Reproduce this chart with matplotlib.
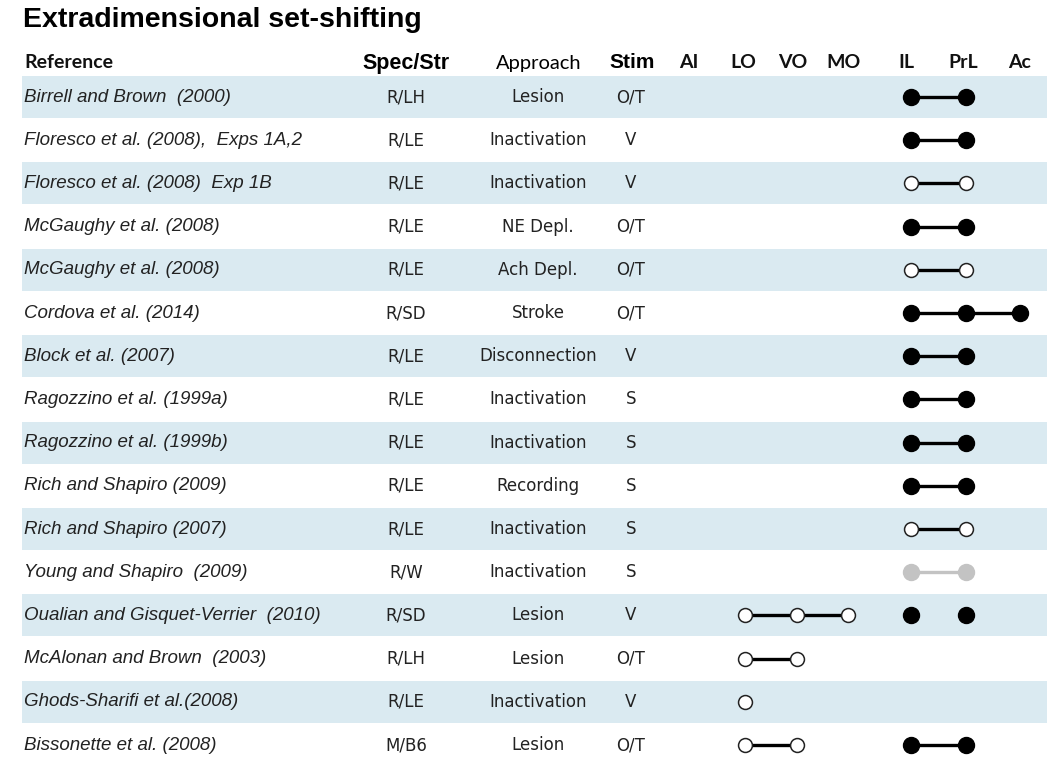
import matplotlib.pyplot as plt
from matplotlib.patches import Rectangle

title = "Extradimensional set-shifting"
headers = ["Reference", "Spec/Str", "Approach", "Stim"]
regions = ["AI", "LO", "VO", "MO", "IL", "PrL", "Ac"]

references = [
    "Birrell and Brown  (2000)",
    "Floresco et al. (2008),  Exps 1A,2",
    "Floresco et al. (2008)  Exp 1B",
    "McGaughy et al. (2008)",
    "McGaughy et al. (2008)",
    "Cordova et al. (2014)",
    "Block et al. (2007)",
    "Ragozzino et al. (1999a)",
    "Ragozzino et al. (1999b)",
    "Rich and Shapiro (2009)",
    "Rich and Shapiro (2007)",
    "Young and Shapiro  (2009)",
    "Oualian and Gisquet-Verrier  (2010)",
    "McAlonan and Brown  (2003)",
    "Ghods-Sharifi et al.(2008)",
    "Bissonette et al. (2008)",
]
species = ["R/LH", "R/LE", "R/LE", "R/LE", "R/LE", "R/SD", "R/LE", "R/LE",
           "R/LE", "R/LE", "R/LE", "R/W", "R/SD", "R/LH", "R/LE", "M/B6"]
approach = ["Lesion", "Inactivation", "Inactivation", "NE Depl.", "Ach Depl.",
            "Stroke", "Disconnection", "Inactivation", "Inactivation",
            "Recording", "Inactivation", "Inactivation", "Lesion", "Lesion",
            "Inactivation", "Lesion"]
stim = ["O/T", "V", "V", "O/T", "O/T", "O/T", "V", "S", "S", "S", "S", "S",
        "V", "O/T", "V", "O/T"]

# each row: list of (connected regions, style)
marks = [
    [(["IL", "PrL"], "filled")],
    [(["IL", "PrL"], "filled")],
    [(["IL", "PrL"], "open")],
    [(["IL", "PrL"], "filled")],
    [(["IL", "PrL"], "open")],
    [(["IL", "PrL", "Ac"], "filled")],
    [(["IL", "PrL"], "filled")],
    [(["IL", "PrL"], "filled")],
    [(["IL", "PrL"], "filled")],
    [(["IL", "PrL"], "filled")],
    [(["IL", "PrL"], "open")],
    [(["IL", "PrL"], "gray")],
    [(["LO", "VO", "MO"], "open"), (["IL"], "filled"), (["PrL"], "filled")],
    [(["LO", "VO"], "open")],
    [(["LO"], "open")],
    [(["LO", "VO"], "open"), (["IL", "PrL"], "filled")],
]

# layout (pixels)
W, H = 1050, 764
row_top, row_pitch = 97, 43.2
header_y = 63
header_x = [24, 406, 539, 632]
region_head_x = [689, 743, 793, 843, 906, 963, 1020]
region_x = [692, 745, 797, 848, 911, 966, 1020]
col_x = [24, 406, 538, 631]
band = "#daeaf1"
txt = "#222222"

fig = plt.figure(figsize=(W / 100, H / 100), dpi=100)
ax = fig.add_axes([0, 0, 1, 1])
ax.set_xlim(0, W)
ax.set_ylim(H, 0)
ax.axis("off")

ax.text(23, 20, title, fontsize=20.5, fontweight="bold",
        family="Liberation Sans", va="center", ha="left")

ax.text(header_x[0], header_y, headers[0], fontsize=14, fontweight="bold",
        family="Lato", va="center", ha="left", color="#111111")
ax.text(header_x[1], header_y, headers[1], fontsize=15.5, fontweight="bold",
        family="Liberation Sans", va="center", ha="center")
ax.text(header_x[2], header_y, headers[2], fontsize=14.5, family="Lato",
        va="center", ha="center")
ax.text(header_x[3], header_y, headers[3], fontsize=15, fontweight="bold",
        family="Liberation Sans", va="center", ha="center")
for hx, r in zip(region_head_x, regions):
    ax.text(hx, header_y, r, fontsize=14, fontweight="bold", family="Lato",
            va="center", ha="center", color="#111111")

pos = dict(zip(regions, region_x))
for i in range(len(references)):
    y = row_top + i * row_pitch
    if i % 2 == 0:
        ax.add_patch(Rectangle((22, y - 21), 1025, 42, color=band, lw=0, zorder=0))
    ax.text(col_x[0], y, references[i], fontsize=13.5, style="italic",
            family="Liberation Sans", va="center", ha="left", color=txt)
    ax.text(col_x[1], y, species[i], fontsize=12, family="DejaVu Sans",
            va="center", ha="center", color=txt)
    ax.text(col_x[2], y, approach[i], fontsize=12, family="DejaVu Sans",
            va="center", ha="center", color=txt)
    ax.text(col_x[3], y, stim[i], fontsize=12, family="DejaVu Sans",
            va="center", ha="center", color=txt)
    for regs, style in marks[i]:
        xs = [pos[r] for r in regs]
        ys = [y] * len(xs)
        if style == "filled":
            ax.plot(xs, ys, color="black", lw=2.4, marker="o", ms=11.5,
                    mfc="black", mec="black", zorder=3)
        elif style == "gray":
            ax.plot(xs, ys, color="#c3c3c3", lw=2.4, marker="o", ms=11.5,
                    mfc="#c3c3c3", mec="#c3c3c3", zorder=3)
        else:
            ax.plot(xs, ys, color="black", lw=2.4, zorder=3)
            ax.plot(xs, ys, ls="none", marker="o", ms=10, mfc="white",
                    mec="#222222", mew=1.1, zorder=4)

fig.savefig("out.png", dpi=100)
